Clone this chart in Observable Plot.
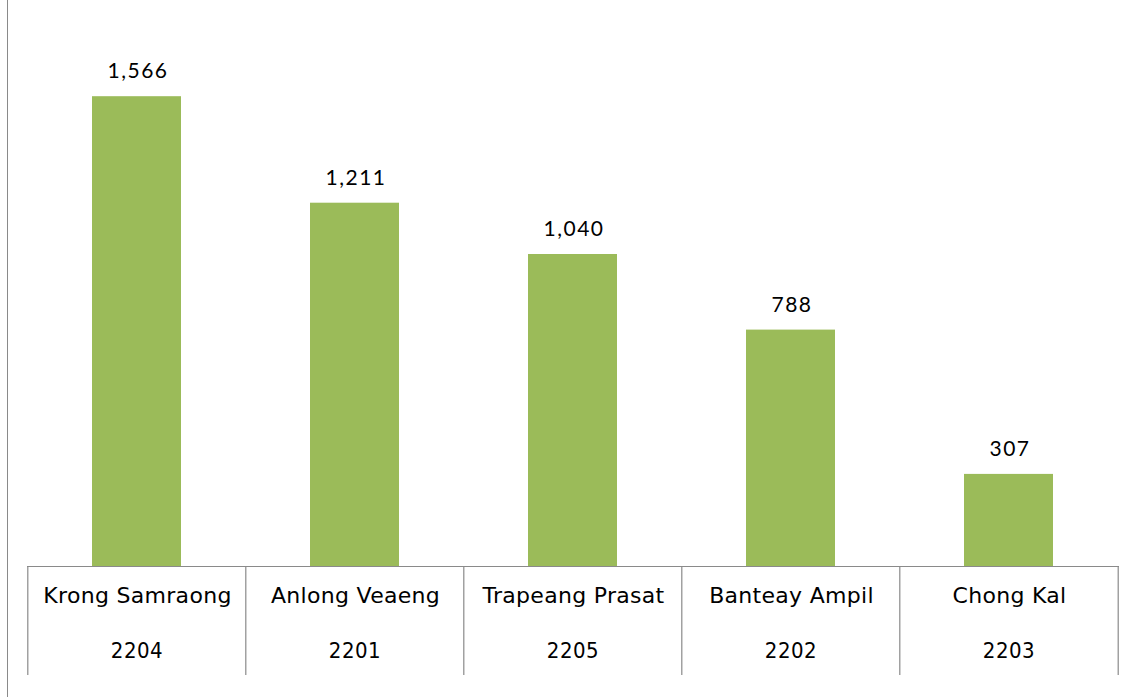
<!DOCTYPE html>
<html>
<head>
<meta charset="utf-8">
<script src="https://cdn.jsdelivr.net/npm/d3@7"></script>
<script src="https://cdn.jsdelivr.net/npm/@observablehq/plot@0.6"></script>
<style>
  html, body { margin: 0; padding: 0; background: #fff; }
  #wrap { position: relative; width: 1136px; height: 700px; }
  #axisline { position: absolute; left: 7px; top: 0; width: 0; height: 697px; border-left: 1.5px solid #8a8a8a; }
</style>
</head>
<body>
<div id="wrap"><div id="axisline"></div></div>
<script>
const names = ["Krong Samraong", "Anlong Veaeng", "Trapeang Prasat", "Banteay Ampil", "Chong Kal"];
const codes = ["2204", "2201", "2205", "2202", "2203"];
const values = [1566, 1211, 1040, 788, 307];

const data = names.map((n, i) => ({name: n, code: codes[i], value: values[i]}));

const W = 1136, H = 700;
const mL = 27, mR = 17, mT = 26, mB = 134;
const step = (W - mL - mR) / names.length;
const frameH = H - mT - mB;
const boxH = 109;

const chart = Plot.plot({
  width: W,
  height: H,
  marginLeft: mL,
  marginRight: mR,
  marginTop: mT,
  marginBottom: mB,
  x: {type: "band", domain: names, paddingInner: 0.59, paddingOuter: 0.295, axis: null},
  y: {domain: [0, 1800], axis: null},
  style: {background: "white"},
  marks: [
    Plot.barY(data, {x: "name", y: "value", fill: "#9BBB59"}),
    Plot.ruleY([0], {stroke: "#8a8a8a", strokeWidth: 1.2}),
    Plot.ruleX(names, {x: d => d, dx: -step / 2, stroke: "#8a8a8a", strokeWidth: 1.2, insetTop: frameH, insetBottom: -boxH}),
    Plot.ruleX(names.slice(-1), {x: d => d, dx: step / 2, stroke: "#8a8a8a", strokeWidth: 1.2, insetTop: frameH, insetBottom: -boxH}),
    Plot.text(data, {x: "name", y: "value", text: d => d3.format(",")(d.value), dy: -25, dx: 1,
      fontFamily: "Lato", fontSize: 21, fill: "#000"}),
    Plot.text(data, {x: "name", text: "name", frameAnchor: "bottom", dy: 36, dx: 0.5,
      fontFamily: "DejaVu Sans", fontSize: 22, fill: "#000"}),
    Plot.text(data, {x: "name", text: "code", frameAnchor: "bottom", dy: 91, dx: 0,
      fontFamily: "DejaVu Sans Condensed, DejaVu Sans", fontSize: 22, fill: "#000"})
  ]
});
const groups = d3.select(chart).selectAll('g[aria-label="text"]').nodes();
if (groups[0]) groups[0].style.letterSpacing = "1.5px";
if (groups[1]) groups[1].style.letterSpacing = "0.3px";
if (groups[2]) groups[2].style.letterSpacing = "0.5px";
document.getElementById("wrap").appendChild(chart);
</script>
</body>
</html>
